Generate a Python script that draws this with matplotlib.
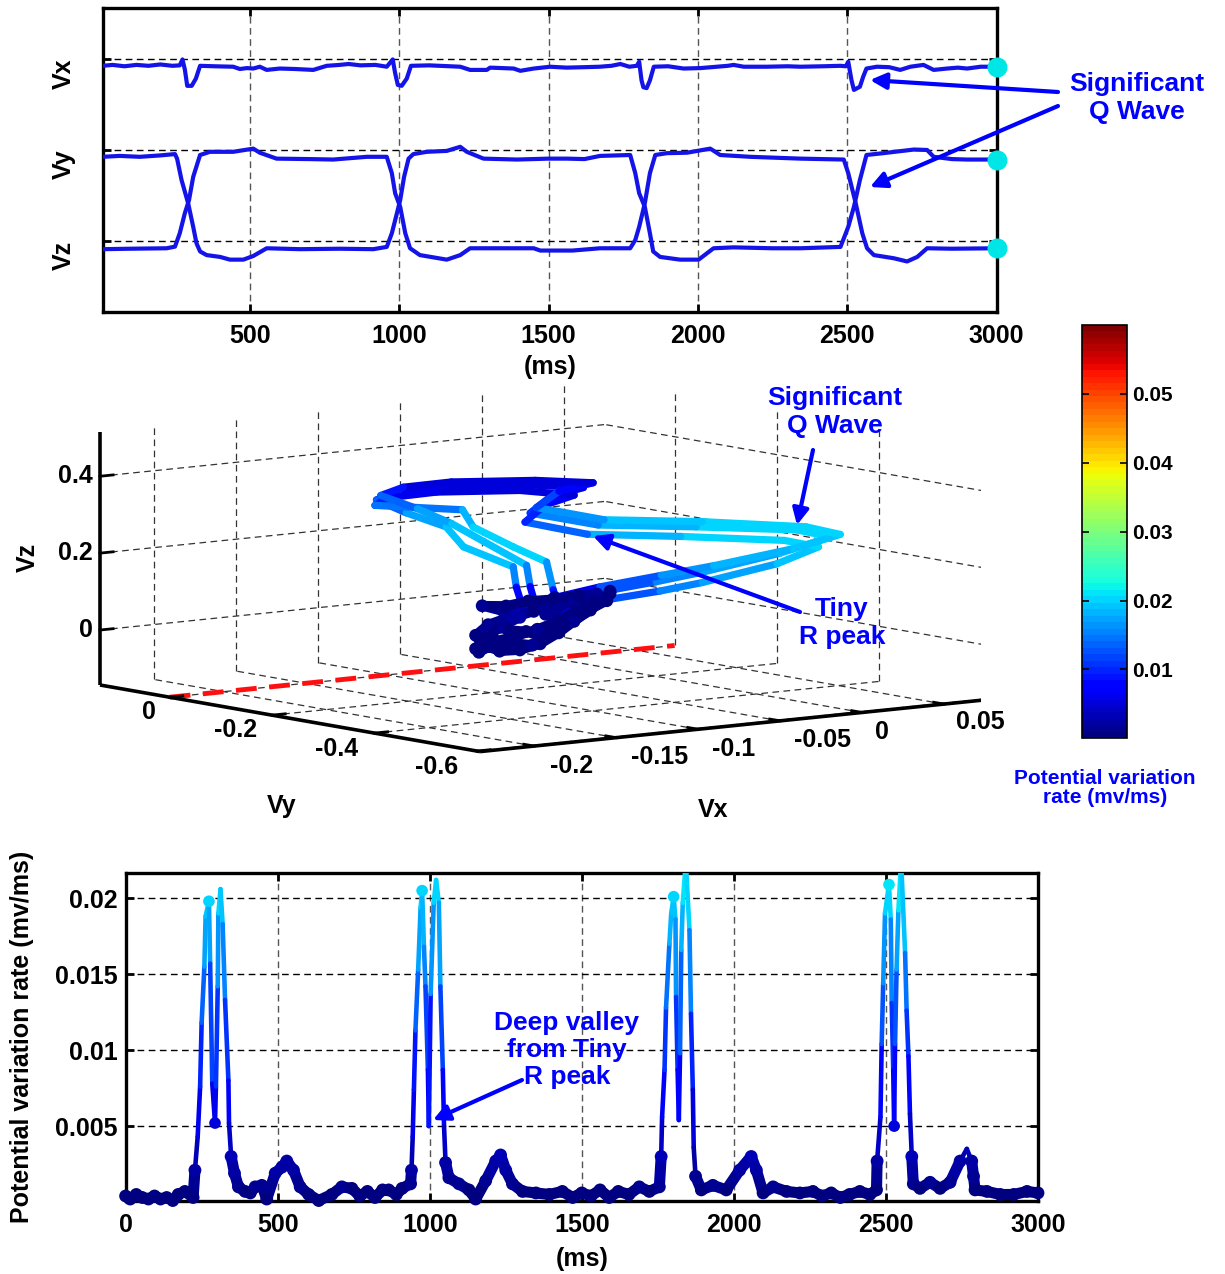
import numpy as np
import matplotlib
matplotlib.use("Agg")
import matplotlib.pyplot as plt
import matplotlib.colors as mcolors
from matplotlib.collections import LineCollection
from matplotlib.patches import FancyArrowPatch
from mpl_toolkits.mplot3d import proj3d
from mpl_toolkits.mplot3d.art3d import Line3DCollection

# ---------------------------------------------------------------- data
# top panel: leads drawn with vertical offsets (Vx +2, Vy +1, Vz +0)
vx_t = [7, 40, 80, 120, 160, 200, 240, 265, 274, 282, 290, 305, 319, 333, 380, 444, 466, 490,
        511, 533, 556, 600, 650, 712, 757, 800, 830, 870, 920, 958, 978, 986, 995, 1008, 1025,
        1039, 1100, 1204, 1237, 1293, 1304, 1383, 1405, 1450, 1505, 1560, 1620, 1671, 1710,
        1740, 1770, 1795, 1803, 1811, 1817, 1828, 1839, 1852, 1900, 1952, 2008, 2063, 2100,
        2119, 2153, 2231, 2300, 2343, 2420, 2477, 2495, 2503, 2514, 2522, 2542, 2553, 2564,
        2599, 2640, 2677, 2711, 2755, 2789, 2834, 2870, 2901, 2946, 3000]
vx_v = [1.92, 1.93, 1.915, 1.93, 1.92, 1.935, 1.92, 1.925, 1.99, 1.88, 1.70, 1.70, 1.78, 1.92,
        1.915, 1.91, 1.885, 1.895, 1.89, 1.91, 1.875, 1.89, 1.885, 1.875, 1.92, 1.93, 1.94,
        1.925, 1.93, 1.91, 1.99, 1.84, 1.71, 1.70, 1.78, 1.92, 1.925, 1.91, 1.875, 1.875, 1.90,
        1.89, 1.865, 1.89, 1.91, 1.90, 1.905, 1.91, 1.92, 1.94, 1.91, 1.92, 1.965, 1.76, 1.685,
        1.675, 1.76, 1.91, 1.915, 1.89, 1.895, 1.91, 1.92, 1.93, 1.91, 1.91, 1.915, 1.91, 1.915,
        1.92, 1.915, 1.965, 1.76, 1.655, 1.69, 1.80, 1.89, 1.91, 1.905, 1.875, 1.91, 1.93,
        1.875, 1.89, 1.90, 1.89, 1.91, 1.91]

vy_t = [7, 64, 131, 198, 249, 256, 271, 293, 310, 321, 333, 355, 400, 433, 478, 511, 556, 668,
        800, 913, 958, 975, 992, 1003, 1016, 1031, 1047, 1092, 1159, 1204, 1226, 1282, 1394,
        1500, 1561, 1620, 1672, 1773, 1790, 1803, 1822, 1839, 1850, 1873, 1940, 2002, 2052,
        2119, 2250, 2343, 2477, 2503, 2522, 2542, 2564, 2620, 2723, 2767, 2789, 2850, 2901, 3000]
vy_v = [0.92, 0.93, 0.92, 0.935, 0.95, 0.90, 0.665, 0.41, 0.15, -0.03, -0.12, -0.16, -0.18,
        -0.21, -0.21, -0.17, -0.085, -0.095, -0.09, -0.095, -0.07, 0.08, 0.30, 0.445, 0.70,
        0.90, 0.95, 0.975, 0.985, 1.03, 0.975, 0.90, 0.89, 0.90, 0.90, 0.895, 0.93, 0.94,
        0.74, 0.52, 0.37, 0.08, -0.12, -0.18, -0.21, -0.21, -0.085, -0.075, -0.085, -0.085,
        -0.07, 0.15, 0.37, 0.665, 0.94, 0.96, 1.00, 0.995, 0.92, 0.895, 0.89, 0.89]

vz_t = [7, 100, 221, 249, 265, 282, 296, 310, 333, 366, 444, 511, 533, 589, 700, 779, 891, 958,
        975, 986, 1003, 1020, 1036, 1069, 1159, 1204, 1237, 1350, 1450, 1472, 1580, 1672, 1773,
        1790, 1803, 1822, 1839, 1857, 1896, 1963, 2041, 2074, 2175, 2343, 2488, 2503, 2528,
        2550, 2566, 2589, 2656, 2700, 2734, 2767, 2850, 3000]
vz_v = [-0.095, -0.09, -0.085, -0.067, 0.08, 0.30, 0.445, 0.70, 0.94, 0.975, 0.975, 1.01, 0.965,
        0.90, 0.895, 0.89, 0.92, 0.92, 0.74, 0.52, 0.37, 0.08, -0.085, -0.16, -0.21, -0.16,
        -0.085, -0.085, -0.085, -0.11, -0.11, -0.085, -0.085, 0.006, 0.15, 0.41, 0.74, 0.94,
        0.96, 0.965, 1.01, 0.94, 0.92, 0.90, 0.89, 0.74, 0.41, 0.08, -0.085, -0.16, -0.195,
        -0.23, -0.18, -0.085, -0.09, -0.085]
lead_ticks = [0, 1, 2]
lead_names = ['Vz', 'Vy', 'Vx']

# bottom panel: potential variation rate (mv/ms)
rate_t = [0, 15, 35, 55, 75, 95, 115, 135, 155, 173, 195, 222,
          228, 237, 245, 250, 259, 263, 274, 278, 285, 294, 297, 303, 305, 312, 319, 327, 338,
          340, 347, 358, 371, 393, 410, 426, 448, 464, 492, 514, 530, 552, 574, 602, 635, 678,
          711, 744, 770, 795, 820, 845, 865, 890, 909, 937,
          940, 944, 948, 953, 962, 970, 975, 981, 986, 994, 997, 1003, 1013, 1021, 1030, 1035,
          1043, 1047, 1052, 1063, 1096, 1129, 1151, 1184, 1217, 1233, 1250, 1272, 1305, 1349,
          1393, 1436, 1470, 1500, 1530, 1560, 1590, 1620, 1655, 1689, 1722, 1755,
          1761, 1764, 1772, 1777, 1788, 1794, 1802, 1808, 1810, 1815, 1819, 1823, 1827, 1832,
          1842, 1854, 1859, 1865, 1868, 1874, 1893, 1931, 1975, 2019, 2057, 2074, 2096, 2129,
          2173, 2217, 2260, 2290, 2320, 2350, 2380, 2414, 2447, 2469,
          2471, 2482, 2486, 2491, 2497, 2510, 2516, 2519, 2524, 2527, 2530, 2535, 2541, 2550,
          2563, 2568, 2574, 2579, 2585, 2590, 2612, 2645, 2678, 2711, 2744, 2766, 2782, 2788,
          2793, 2832, 2876, 2920, 2964, 3000]
rate_v = [0.0004, 0.0002, 0.0005, 0.0003, 0.0002, 0.0004, 0.0002, 0.0003, 0.0001, 0.0005,
          0.0007, 0.0003,
          0.0021, 0.0043, 0.0076, 0.0118, 0.0155, 0.0188, 0.0198, 0.0157, 0.0078, 0.0052,
          0.0076, 0.0142, 0.0190, 0.0206, 0.0183, 0.0133, 0.0080, 0.0052, 0.0030, 0.0019,
          0.0010, 0.0007, 0.0006, 0.0010, 0.0011, 0.0002, 0.0019, 0.0023, 0.0027, 0.0021,
          0.0010, 0.0005, 0.0001, 0.0005, 0.0010, 0.0009, 0.0004, 0.0007, 0.0003, 0.0008,
          0.0008, 0.0005, 0.0009, 0.0012,
          0.0021, 0.0043, 0.0074, 0.0113, 0.0153, 0.0194, 0.0205, 0.0168, 0.0142, 0.0087,
          0.0050, 0.0137, 0.0197, 0.0212, 0.0197, 0.0142, 0.0087, 0.0050, 0.0026, 0.0016,
          0.0012, 0.0008, 0.0002, 0.0014, 0.0027, 0.0031, 0.0021, 0.0012, 0.0007, 0.0006,
          0.0005, 0.0007, 0.0003, 0.0006, 0.0004, 0.0008, 0.0003, 0.0007, 0.0005, 0.0010,
          0.0007, 0.0010,
          0.0030, 0.0056, 0.0087, 0.0128, 0.0170, 0.0190, 0.0201, 0.0186, 0.0135, 0.0087,
          0.0054, 0.0098, 0.0166, 0.0197, 0.0224, 0.0179, 0.0124, 0.0074, 0.0036, 0.0017,
          0.0008, 0.0011, 0.0008, 0.0021, 0.0030, 0.0021, 0.0006, 0.0010, 0.0007, 0.0006,
          0.0007, 0.0004, 0.0006, 0.0003, 0.0005, 0.0007, 0.0005, 0.0008,
          0.0027, 0.0056, 0.0104, 0.0144, 0.0190, 0.0209, 0.0186, 0.0131, 0.0087, 0.0050,
          0.0104, 0.0153, 0.0192, 0.0224, 0.0164, 0.0126, 0.0096, 0.0058, 0.0030, 0.0012,
          0.0009, 0.0013, 0.0009, 0.0013, 0.0027, 0.0035, 0.0027, 0.0017, 0.0008, 0.0007,
          0.0005, 0.0005, 0.0007, 0.0006]
dot_times = [274, 294, 975, 1802, 1842, 2510, 2527, 2550]
ms_ticks = [0, 500, 1000, 1500, 2000, 2500, 3000]
rate_ticks = [0.005, 0.01, 0.015, 0.02]
rate_tick_labels = ['0.005', '0.01', '0.015', '0.02']

# middle panel: 3D vector loop (Vx, Vy, Vz) and its variation rate
# (isoelectric wander, beat loop, wander, beat loop, wander, beat loop, wander)
traj_vx = [-0.060, -0.052, -0.045, -0.036, -0.028, -0.020, -0.030, -0.042, -0.052, -0.040,
           -0.025, -0.010,
           0.000, -0.010, -0.010, 0.000, 0.005, 0.010, 0.000, -0.010, -0.020, -0.030, -0.010,
           0.000, -0.030, -0.070, -0.090, -0.100, -0.090, -0.080, -0.070, -0.050, -0.040, -0.030,
           -0.040, -0.055, -0.062, -0.058, -0.048, -0.035, -0.022, -0.012, -0.002, 0.008, 0.015,
           0.000,
           -0.010, -0.015, -0.012, -0.005, 0.000, 0.005, -0.005, -0.015, -0.025, -0.035, -0.015,
           -0.005, -0.035, -0.075, -0.095, -0.100, -0.070, -0.065, -0.050, -0.040, -0.030, -0.020,
           -0.045, -0.058, -0.045, -0.030, -0.015, 0.000, 0.012, 0.018, 0.005, -0.008, -0.020,
           -0.010,
           0.005, -0.005, -0.005, 0.005, 0.010, 0.012, 0.002, -0.008, -0.018, -0.028, -0.005,
           0.005, -0.028, -0.068, -0.088, -0.098, -0.085, -0.075, -0.060, -0.045, -0.035, -0.025,
           -0.035, -0.048, -0.055, -0.062, -0.050, -0.038, -0.025, -0.012, -0.001, 0.010, 0.020,
           0.020]
traj_vy = [-0.050, -0.045, -0.050, -0.048, -0.052, -0.050, -0.046, -0.050, -0.048, -0.050,
           -0.045, -0.040,
           0.000, -0.119, -0.236, -0.296, -0.430, -0.514, -0.478, -0.314, -0.155, -0.054, -0.029,
           -0.062, -0.054, -0.018, 0.011, 0.022, -0.004, -0.050, -0.052, -0.085, -0.059, -0.041,
           -0.050, -0.052, -0.050, -0.048, -0.052, -0.050, -0.048, -0.052, -0.050, -0.050, -0.055,
           -0.045,
           -0.020, -0.130, -0.250, -0.310, -0.440, -0.505, -0.470, -0.300, -0.150, -0.060, -0.035,
           -0.060, -0.050, -0.015, 0.015, 0.025, -0.050, -0.055, -0.085, -0.118, -0.099, -0.080,
           -0.050, -0.050, -0.055, -0.050, -0.050, -0.052, -0.050, -0.050, -0.048, -0.050, -0.052,
           -0.040,
           0.010, -0.110, -0.230, -0.300, -0.440, -0.525, -0.490, -0.320, -0.160, -0.060, -0.030,
           -0.065, -0.058, -0.022, 0.008, 0.020, -0.010, -0.045, -0.060, -0.095, -0.070, -0.050,
           -0.050, -0.052, -0.050, -0.050, -0.050, -0.048, -0.052, -0.050, -0.050, -0.052, -0.050,
           -0.050]
traj_vz = [-0.090, -0.080, -0.088, -0.078, -0.085, -0.070, -0.050, -0.040, -0.025, -0.010,
           0.000, 0.010,
           0.000, 0.059, 0.115, 0.150, 0.228, 0.288, 0.302, 0.276, 0.248, 0.260, 0.287, 0.315,
           0.333, 0.338, 0.327, 0.307, 0.275, 0.245, 0.189, 0.136, 0.073, 0.005,
           -0.005, -0.020, -0.045, -0.070, -0.092, -0.095, -0.085, -0.060, -0.035, -0.010, 0.015,
           0.020,
           -0.020, 0.040, 0.095, 0.128, 0.205, 0.262, 0.275, 0.250, 0.225, 0.240, 0.270, 0.297,
           0.320, 0.325, 0.312, 0.292, 0.285, 0.239, 0.188, 0.152, 0.071, 0.010,
           0.010, 0.030, 0.025, 0.030, 0.028, 0.032, 0.030, 0.010, -0.015, -0.040, -0.060,
           -0.020,
           0.010, 0.070, 0.128, 0.165, 0.240, 0.296, 0.312, 0.290, 0.262, 0.275, 0.300, 0.326,
           0.345, 0.350, 0.338, 0.318, 0.285, 0.250, 0.200, 0.140, 0.075, 0.010,
           -0.010, -0.030, -0.055, -0.080, -0.065, -0.060, -0.045, -0.030, -0.008, 0.012, 0.028,
           0.034]
traj_rate = [0.0005, 0.0008, 0.0004, 0.0007, 0.0010, 0.0006, 0.0009, 0.0005, 0.0007, 0.0011,
             0.0008, 0.0012,
             0.0015, 0.011, 0.015, 0.016, 0.018, 0.020, 0.021, 0.020, 0.017, 0.013, 0.009, 0.006,
             0.005, 0.005, 0.007, 0.012, 0.016, 0.019, 0.020, 0.018, 0.012, 0.004,
             0.0020, 0.0012, 0.0008, 0.0005, 0.0007, 0.0004, 0.0009, 0.0006, 0.0010, 0.0007,
             0.0005, 0.0011,
             0.0015, 0.011, 0.015, 0.016, 0.018, 0.020, 0.021, 0.020, 0.016, 0.012, 0.008, 0.006,
             0.005, 0.005, 0.007, 0.012, 0.017, 0.020, 0.021, 0.019, 0.013, 0.004,
             0.0018, 0.0010, 0.0006, 0.0009, 0.0005, 0.0008, 0.0011, 0.0007, 0.0004, 0.0009,
             0.0006, 0.0012,
             0.0015, 0.011, 0.015, 0.017, 0.019, 0.020, 0.021, 0.020, 0.018, 0.014, 0.009, 0.006,
             0.005, 0.005, 0.006, 0.011, 0.016, 0.019, 0.020, 0.018, 0.012, 0.004,
             0.0019, 0.0011, 0.0007, 0.0005, 0.0008, 0.0006, 0.0010, 0.0005, 0.0009, 0.0006,
             0.0008, 0.0007]
vx3_ticks = [-0.2, -0.15, -0.1, -0.05, 0, 0.05]
vy3_ticks = [-0.6, -0.4, -0.2, 0]
vz3_ticks = [0, 0.2, 0.4]
vx3_labels = ['-0.2', '-0.15', '-0.1', '-0.05', '0', '0.05']
vy3_labels = ['-0.6', '-0.4', '-0.2', '0']
vz3_labels = ['0', '0.2', '0.4']
cbar_ticks = [0.01, 0.02, 0.03, 0.04, 0.05]
cbar_labels = ['0.01', '0.02', '0.03', '0.04', '0.05']

# ---------------------------------------------------------------- style
plt.rcParams['font.family'] = ['Liberation Sans', 'DejaVu Sans']
plt.rcParams['font.weight'] = 'bold'
plt.rcParams['axes.labelweight'] = 'bold'
plt.rcParams['lines.scale_dashes'] = False

W, H = 1225, 1274
fig = plt.figure(figsize=(W / 100, H / 100), dpi=100)
BLUE = '#0000ff'
TRACE = '#1414e8'
cmap = plt.get_cmap('jet', 64)
norm = mcolors.Normalize(0.0, 0.06)
GRID_DASH = (4.8, 3.2)
FS = 18
LOW = 0.0035


def fpos(x0, y0, x1, y1):
    return [x0 / W, 1 - y1 / H, (x1 - x0) / W, (y1 - y0) / H]


def ftext(x, y, s, **kw):
    kw.setdefault('ha', 'center')
    kw.setdefault('va', 'center')
    kw.setdefault('fontsize', FS)
    kw.setdefault('fontweight', 'bold')
    fig.text(x / W, 1 - y / H, s, **kw)


def farrow(x0, y0, x1, y1):
    a = FancyArrowPatch((x0 / W, 1 - y0 / H), (x1 / W, 1 - y1 / H),
                        transform=fig.transFigure, arrowstyle='-|>', mutation_scale=24,
                        lw=3, color=BLUE, shrinkA=0, shrinkB=0, zorder=20)
    fig.add_artist(a)


def style_axes(ax):
    for sp in ax.spines.values():
        sp.set_linewidth(2.4)
    ax.tick_params(direction='in', length=6, width=2, top=True, right=True,
                   labelsize=FS, pad=9)
    ax.xaxis.grid(True, color='#555555', lw=1.0, dashes=GRID_DASH)
    ax.yaxis.grid(True, color='black', lw=1.0, dashes=GRID_DASH)
    ax.set_axisbelow(True)


# ---------------------------------------------------------------- top panel
ax1 = fig.add_axes(fpos(102.7, 8.3, 996.7, 311.7))
for tt, vv in ((vx_t, vx_v), (vy_t, vy_v), (vz_t, vz_v)):
    ax1.plot(tt, vv, color=TRACE, lw=3, solid_joinstyle='round', zorder=3)
ax1.scatter([vx_t[-1], vy_t[-1], vz_t[-1]], [vx_v[-1], vy_v[-1], vz_v[-1]], s=180,
            color='#00e6e6', zorder=6, clip_on=False)
ax1.set_xlim(7, 3000)
ax1.set_ylim(-0.782, 2.552)
ax1.set_xticks(ms_ticks[1:])
ax1.set_yticks(lead_ticks)
ax1.set_yticklabels(lead_names)
style_axes(ax1)
ax1.tick_params(axis='y', pad=19)
for lb in ax1.get_yticklabels():
    lb.set_rotation(90)
    lb.set_va('top')
ax1.set_xlabel('(ms)', fontsize=FS)
ax1.xaxis.label.set_va('center')
ax1.xaxis.set_label_coords(0.5, -(367 - 311.7) / 303.4)

# ---------------------------------------------------------------- bottom panel
ax2 = fig.add_axes(fpos(125.6, 873, 1038, 1201))
t = np.array(rate_t, float)
v = np.array(rate_v, float)
pts = np.column_stack([t, v])
segs = np.stack([pts[:-1], pts[1:]], axis=1)
mid = (v[:-1] + v[1:]) / 2
ax2.add_collection(LineCollection(segs, colors=cmap(norm(mid)), linewidths=3.3,
                                  capstyle='round', joinstyle='round', zorder=3))
low = (v[:-1] < LOW) & (v[1:] < LOW)
ax2.add_collection(LineCollection(segs[low], colors=cmap(norm(mid[low])), linewidths=8,
                                  capstyle='round', zorder=3, clip_on=False))
lowp = v < LOW
ax2.scatter(t[lowp], v[lowp], s=85, c=cmap(norm(v[lowp])), edgecolors='none', zorder=4,
            clip_on=False)
di = [rate_t.index(d) for d in dot_times]
ax2.scatter(t[di], v[di], s=70, c=cmap(norm(v[di])), edgecolors='none', zorder=5)
ax2.set_xlim(0, 3000)
ax2.set_ylim(0.00007, 0.02166)
ax2.set_xticks(ms_ticks)
ax2.set_yticks(rate_ticks)
ax2.set_yticklabels(rate_tick_labels)
style_axes(ax2)
ax2.tick_params(axis='y', pad=6)
ax2.set_xlabel('(ms)', fontsize=FS)
ax2.xaxis.label.set_va('center')
ax2.xaxis.set_label_coords(0.5, -(1259 - 1201) / 328)
ax2.set_ylabel('Potential variation rate (mv/ms)', fontsize=FS)
ax2.yaxis.label.set_va('center')
ax2.yaxis.set_label_coords((22 - 125.6) / 912.4, 0.5)

# ---------------------------------------------------------------- colorbar
cax = fig.add_axes(fpos(1081.7, 325, 1126.7, 738.3))
sm = plt.cm.ScalarMappable(norm=norm, cmap=cmap)
cb = fig.colorbar(sm, cax=cax, ticks=cbar_ticks)
cb.ax.set_yticklabels(cbar_labels)
cb.ax.tick_params(direction='in', length=5, width=1.2, left=True, right=True,
                  labelsize=15, pad=4)
cb.outline.set_linewidth(1.2)
ftext(1105, 788, 'Potential variation\nrate (mv/ms)', color=BLUE, fontsize=15,
      linespacing=1.05)

# ---------------------------------------------------------------- 3D panel
XMIN, XMAX = -0.233, 0.075
YMIN, YMAX = -0.606, 0.136
ZMIN, ZMAX = -0.143, 0.514
ax3 = fig.add_axes([0.05, 0.3, 0.8, 0.45], projection='3d', proj_type='ortho',
                   computed_zorder=False)
ax3.set_facecolor('none')
ax3.set_axis_off()

gkw = dict(color='#333333', lw=0.9, dashes=GRID_DASH, zorder=1)
for xv in vx3_ticks:
    ax3.plot([xv, xv], [YMAX, YMAX], [ZMIN, ZMAX], **gkw)
    ax3.plot([xv, xv], [YMIN, YMAX], [ZMIN, ZMIN], **gkw)
for yv in vy3_ticks:
    ax3.plot([XMAX, XMAX], [yv, yv], [ZMIN, ZMAX], **gkw)
    ax3.plot([XMIN, XMAX], [yv, yv], [ZMIN, ZMIN], **gkw)
for zv in vz3_ticks:
    ax3.plot([XMIN, XMAX], [YMAX, YMAX], [zv, zv], **gkw)
    ax3.plot([XMAX, XMAX], [YMIN, YMAX], [zv, zv], **gkw)

ax3.plot([XMIN, XMAX], [0, 0], [ZMIN, ZMIN], color='#ff1010', lw=3.5, dashes=(15, 9),
         zorder=2)

P = np.column_stack([traj_vx, traj_vy, traj_vz])
r3 = np.array(traj_rate)
seg3 = np.stack([P[:-1], P[1:]], axis=1)
mid3 = (r3[:-1] + r3[1:]) / 2
lc3 = Line3DCollection(seg3, colors=cmap(norm(mid3)), linewidths=5.2, zorder=3)
lc3.set_capstyle('round')
ax3.add_collection3d(lc3)
low3 = (r3[:-1] < LOW) & (r3[1:] < LOW)
lc3b = Line3DCollection(seg3[low3], colors=cmap(norm(mid3[low3])), linewidths=7, zorder=3)
lc3b.set_capstyle('round')
ax3.add_collection3d(lc3b)
lp3 = r3 < LOW
ax3.scatter(P[lp3, 0], P[lp3, 1], P[lp3, 2], s=85, c=cmap(norm(r3[lp3])),
            edgecolors='none', depthshade=False, zorder=4)

akw = dict(color='black', lw=2.6, zorder=6, solid_capstyle='butt')
ax3.plot([XMIN, XMIN], [YMAX, YMAX], [ZMIN, ZMAX], **akw)
ax3.plot([XMIN, XMIN], [YMAX, YMIN], [ZMIN, ZMIN], **akw)
ax3.plot([XMIN, XMAX], [YMIN, YMIN], [ZMIN, ZMIN], **akw)
for zv in vz3_ticks:
    ax3.plot([XMIN, XMIN + 0.008], [YMAX, YMAX], [zv, zv], color='black', lw=2, zorder=6)
for yv in vy3_ticks:
    ax3.plot([XMIN, XMIN + 0.008], [yv, yv], [ZMIN, ZMIN], color='black', lw=2, zorder=6)
for xv in vx3_ticks:
    ax3.plot([xv, xv], [YMIN, YMIN + 0.02], [ZMIN, ZMIN], color='black', lw=2, zorder=6)

ax3.set_xlim(XMIN, XMAX)
ax3.set_ylim(YMIN, YMAX)
ax3.set_zlim(ZMIN, ZMAX)
ax3.set_box_aspect((636, 626, 255))
ax3.view_init(elev=7.7, azim=-127.4)


def proj_px(x, y, z):
    M = ax3.get_proj()
    xs, ys, _ = proj3d.proj_transform(np.array([x]), np.array([y]), np.array([z]), M)
    return ax3.transData.transform(np.column_stack([xs, ys]))[0]


tL = np.array([100.0, H - 685.0])
tR = np.array([985.0, H - 700.0])
for _ in range(3):
    fig.canvas.draw()
    pL = proj_px(XMIN, YMAX, ZMIN)
    pR = proj_px(XMAX, YMIN, ZMIN)
    s = (tR[0] - tL[0]) / (pR[0] - pL[0])
    pos = ax3.get_position(original=True)
    cx, cy = pos.x0 + pos.width / 2, pos.y0 + pos.height / 2
    c_px = np.array([cx * W, cy * H])
    newL = c_px + s * (pL - c_px)
    sh = tL - newL
    ncx, ncy = cx + sh[0] / W, cy + sh[1] / H
    nw, nh = pos.width * s, pos.height * s
    ax3.set_position([ncx - nw / 2, ncy - nh / 2, nw, nh])

# 3D tick labels and axis labels
for lab, (x, y) in zip(vz3_labels, [(93, 630), (93, 553), (93, 476)]):
    ftext(x, y, lab, ha='right')
for lab, (x, y) in zip(vy3_labels, [(437, 767), (337, 749), (236, 730), (149, 712)]):
    ftext(x, y, lab)
for lab, (x, y) in zip(vx3_labels, [(572, 766), (660, 757), (734, 749), (823, 740),
                                    (882, 732), (980, 722)]):
    ftext(x, y, lab)
ftext(28, 557, 'Vz', rotation=90)
ftext(282, 806, 'Vy')
ftext(713, 810, 'Vx')

# ---------------------------------------------------------------- annotations
ftext(1137, 98, 'Significant\nQ Wave', color=BLUE, fontsize=19, linespacing=1.18)
farrow(1058, 92, 870, 80)
farrow(1058, 106, 870, 187)

ftext(835, 412, 'Significant\nQ Wave', color=BLUE, fontsize=19, linespacing=1.18)
farrow(813, 450, 797, 525)
ftext(842, 623, 'Tiny\nR peak', color=BLUE, fontsize=19, linespacing=1.18)
farrow(800, 612, 593, 536)

ftext(567, 1050, 'Deep valley\nfrom Tiny\nR peak', color=BLUE, fontsize=19, linespacing=1.18)
farrow(522, 1080, 433, 1120)

fig.savefig('out.png', dpi=100)
